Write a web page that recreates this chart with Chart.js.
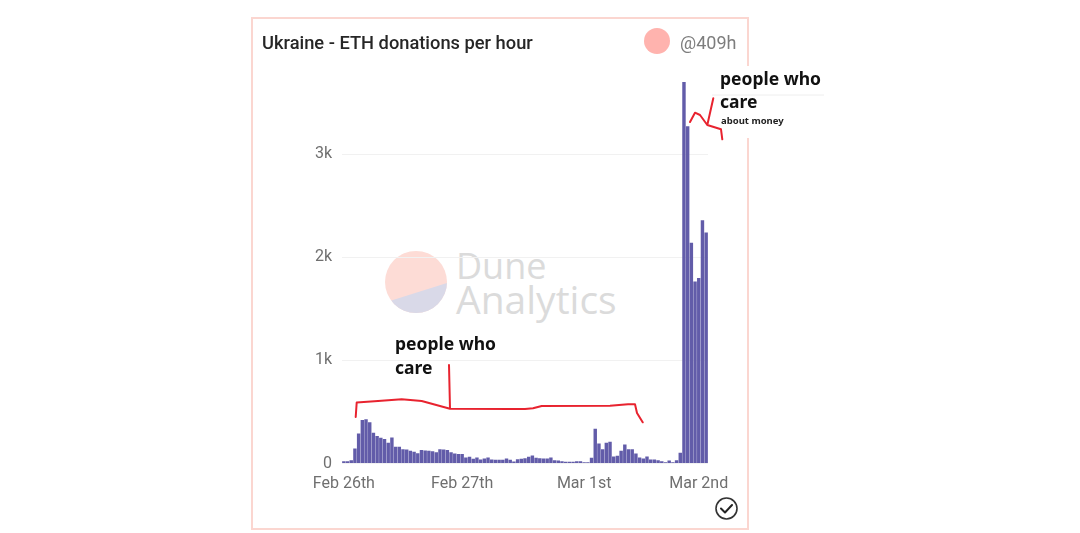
<!DOCTYPE html>
<html><head><meta charset="utf-8">
<style>
html,body{margin:0;padding:0;background:#fff;width:1080px;height:533px;overflow:hidden}
#wrap{position:relative;width:1080px;height:533px}
#wrap>*{position:absolute}
#card{left:251px;top:17px;width:494px;height:509px;border:2px solid #fbd6d0}
#patch{left:716px;top:66px;width:110px;height:72px;background:#fff}
canvas{left:0;top:0}
.t{white-space:nowrap;line-height:1}
.hand{font-family:"Noto Sans",sans-serif;font-weight:700;color:#111}
svg{left:0;top:0}
</style></head><body>
<div id="wrap">
<div id="card"></div>
<svg width="1080" height="533">
  <defs><clipPath id="c"><circle cx="416" cy="282" r="31"/></clipPath></defs>
  <circle cx="416" cy="282" r="31" fill="#fddcd6"/>
  <path d="M380 304 L450 282 L450 320 L380 320 Z" fill="#d9d9e8" clip-path="url(#c)"/>
</svg>
<div class="t" style="left:456px;top:241px;font:36px 'Open Sans',sans-serif;color:#dbdbdb">Dune</div>
<div class="t" style="left:456px;top:272px;font:39px 'Open Sans',sans-serif;color:#dbdbdb">Analytics</div>
<canvas id="chart" width="1080" height="533"></canvas>
<div id="patch"></div>
<svg width="1080" height="533" style="pointer-events:none">
  <path d="M712 95 H824" stroke="#eeeeee" stroke-width="1" fill="none"/>
  <path d="M355.7 417 L356.7 402.5 L378 401 L401.7 399.3 L421.7 401 L450 408.7 L449 365 M450 408.7 L525 409 L533 408.3 L541.7 406 L610 405.7 L628 404.3 L635 404.3 L637 413 L642.7 422.3" fill="none" stroke="#e8232f" stroke-width="2" stroke-linejoin="round" stroke-linecap="round"/>
  <path d="M690 122 L695 112.7 L700 115 L707.3 125 L713.3 98.3 M707.3 125 L721 129.3 L722.3 139.3" fill="none" stroke="#e8232f" stroke-width="2" stroke-linejoin="round" stroke-linecap="round"/>
  <circle cx="657" cy="41" r="13" fill="#ffb3ae"/>
  <circle cx="726.5" cy="508.5" r="10.5" fill="none" stroke="#333" stroke-width="1.6"/>
  <path d="M721 508.5 L725 512.5 L732 505" fill="none" stroke="#222" stroke-width="2" stroke-linecap="round" stroke-linejoin="round"/>
</svg>
<div class="t" style="left:262px;top:32px;font:500 18.3px Roboto,sans-serif;color:#262626">Ukraine - ETH donations per hour</div>
<div class="t" style="left:680px;top:32px;font:400 18px Roboto,sans-serif;color:#7d7d7d">@409h</div>
<div class="t hand" style="left:395px;top:335px;font-size:17.5px">people who</div>
<div class="t hand" style="left:395px;top:359px;font-size:17.5px">care</div>
<div class="t hand" style="left:720px;top:70px;font-size:17.5px">people who</div>
<div class="t hand" style="left:720px;top:93px;font-size:17.5px">care</div>
<div class="t hand" style="left:721px;top:116px;font-size:9.5px;color:#222">about money</div>
</div>
<script src="https://cdn.jsdelivr.net/npm/chart.js@4"></script>
<script>
const seriesName = "ETH donations per hour";
const values = [23,23,32,146,292,421,428,399,298,266,249,237,201,253,162,162,139,136,123,113,100,130,126,123,120,110,139,136,130,110,97,91,91,58,65,45,58,39,49,58,39,36,36,36,49,36,19,42,
45,52,65,78,55,52,49,49,58,32,29,23,16,16,16,23,23,13,13,55,337,194,139,201,211,68,74,123,185,139,139,97,58,49,68,39,39,32,23,13,29,13,32,104,
3700,3270,2140,1765,1800,2360,2240];
const tickIndex = [0,32,65,96];
const tickLabels = ["Feb 26th","Feb 27th","Mar 1st","Mar 2nd"];
const yTicks = [0,1000,2000,3000];
const yTickLabels = ["0","1k","2k","3k"];
const categories = values.map((_,i)=>{const p=tickIndex.indexOf(i);return p>=0?tickLabels[p]:"";});

new Chart(document.getElementById("chart"),{
  type:"bar",
  data:{labels:categories,datasets:[{label:seriesName,data:values,backgroundColor:"#625ca9",borderWidth:0,barPercentage:0.93,categoryPercentage:1}]},
  options:{
    responsive:false,animation:false,
    devicePixelRatio:1,
    layout:{padding:{top:82,right:372,left:0,bottom:0}},
    plugins:{legend:{display:false},title:{display:false},tooltip:{enabled:false}},
    scales:{
      x:{
        offset:true,
        afterFit:s=>{s.height=69.5;},
        grid:{display:false},border:{display:false},
        ticks:{autoSkip:false,maxRotation:0,minRotation:0,padding:3,color:"#6f6f6f",font:{family:"Roboto",size:16},
          callback:(v,i)=>categories[i]}
      },
      y:{
        min:0,max:3700,
        afterFit:s=>{s.width=342;},
        afterBuildTicks:s=>{s.ticks=yTicks.map(v=>({value:v}));},
        grid:{color:"#f1f1f1",drawTicks:false,lineWidth:1},border:{display:false},
        ticks:{padding:10,color:"#6f6f6f",font:{family:"Roboto",size:16},
          callback:v=>yTickLabels[yTicks.indexOf(v)]}
      }
    }
  }
});
</script>
</body></html>
